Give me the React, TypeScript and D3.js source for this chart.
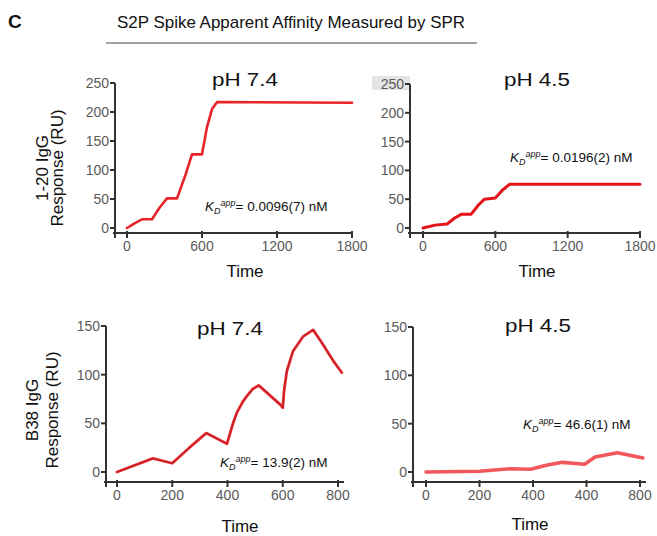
import React from 'react'
import * as d3 from 'd3'

// 1-20 IgG, pH 7.4
const timeA = [0, 60, 120, 200, 260, 320, 400, 467, 520, 600, 640, 680, 720, 1800]
const respA = [0, 8, 15, 15, 35, 51, 51, 91, 127, 127, 174, 205, 217, 216]
// 1-20 IgG, pH 4.5
const timeB = [0, 100, 200, 260, 320, 400, 460, 510, 600, 660, 720, 1800]
const respB = [0, 5, 7, 17, 24, 24, 40, 50, 52, 66, 76, 76]
// B38 IgG, pH 7.4
const timeC = [0, 130, 200, 262, 323, 398, 420, 434, 455, 470, 490, 513, 592, 600, 605, 615, 637, 673, 710, 741, 781, 814]
const respC = [0, 14, 9, 25, 40, 29, 50, 61, 72, 78, 85, 89, 69, 66, 84, 104, 124, 139, 146, 133, 115, 102]
// B38 IgG, pH 4.5
const timeD = [0, 200, 317, 391, 450, 509, 593, 632, 716, 811]
const respD = [0, 0.7, 3.4, 2.8, 7, 10, 8, 15.5, 20, 14.5]

const ticksLong = [0, 600, 1200, 1800]
const ticksShort = [0, 200, 400, 600, 800]
const labelsShortC = ['0', '200', '400', '600', '800']
const labelsShortD = ['0', '200', '400', '400', '800']
const yTicksTop = [0, 50, 100, 150, 200, 250]
const yTicksBottom = [0, 50, 100, 150]

const FONT = '"Liberation Sans", Arial, Helvetica, sans-serif'

type PanelProps = {
  times: number[]
  resp: number[]
  xDomain: [number, number]
  xRange: [number, number]
  yDomain: [number, number]
  yRange: [number, number]
  axisX: number
  axisY: number
  xEnd: number
  xTicks: number[]
  xLabels: string[]
  yTicks: number[]
  title: string
  titlePos: [number, number]
  kd: string
  kdPos: [number, number]
  color: string
  width: number
  dark?: boolean
}

const Panel = (p: PanelProps) => {
  const x = d3.scaleLinear().domain(p.xDomain).range(p.xRange)
  const y = d3.scaleLinear().domain(p.yDomain).range(p.yRange)
  const pts = p.times.map((t, i) => [t, p.resp[i]] as [number, number])
  const line = d3.line<[number, number]>().x(d => x(d[0])).y(d => y(d[1]))
  const top = y(p.yDomain[1])
  return (
    <g>
      <text x={p.titlePos[0]} y={p.titlePos[1]} textAnchor="middle" fontSize={19}
        textLength={66} lengthAdjust="spacingAndGlyphs" fill="#111">{p.title}</text>
      {/* axes */}
      <line x1={p.axisX} x2={p.axisX} y1={top} y2={p.axisY + 5} stroke="#333" strokeWidth={2} />
      <line x1={p.axisX - 2} x2={p.xEnd} y1={p.axisY} y2={p.axisY} stroke="#333" strokeWidth={2} />
      {p.yTicks.map(t => (
        <g key={'y' + t}>
          <line x1={p.axisX - 5} x2={p.axisX} y1={y(t)} y2={y(t)} stroke="#333" strokeWidth={2} />
          <text x={p.axisX - 6} y={y(t)} dy="0.36em" textAnchor="end" fontSize={14} fill="#5a5a5a">{t}</text>
        </g>
      ))}
      {p.xTicks.map((t, i) => (
        <g key={'x' + i}>
          <line x1={x(t)} x2={x(t)} y1={p.axisY - 2} y2={p.axisY + 5} stroke="#333" strokeWidth={2} />
          <text x={x(t)} y={p.axisY + 18} textAnchor="middle" fontSize={14} fill="#5a5a5a">{p.xLabels[i]}</text>
        </g>
      ))}
      <path d={line(pts) || ''} fill="none" stroke={p.color} strokeWidth={p.width} strokeLinejoin="round" strokeLinecap="round" />
      {p.dark && (
        <path d={line(pts) || ''} fill="none" stroke="#2a0505" strokeOpacity={0.35} strokeWidth={0.8} />
      )}
      <text x={p.kdPos[0]} y={p.kdPos[1]} fontSize={13.5} fill="#111">
        <tspan fontStyle="italic">K</tspan>
        <tspan fontStyle="italic" fontSize={9} dy={3}>D</tspan>
        <tspan fontStyle="italic" fontSize={9} dy={-8}>app</tspan>
        <tspan dy={5}>{'= ' + p.kd + ' nM'}</tspan>
      </text>
    </g>
  )
}

export default function App() {
  return (
    <svg width={657} height={536} style={{ display: 'block', position: 'absolute', left: 0, top: 0 }}
      fontFamily={FONT}>
      <rect width={657} height={536} fill="#fff" />
      <text x={8} y={28} fontSize={19} fontWeight="bold" fill="#111">C</text>
      <text x={291} y={28} textAnchor="middle" fontSize={17} textLength={348}
        lengthAdjust="spacingAndGlyphs" fill="#111">S2P Spike Apparent Affinity Measured by SPR</text>
      <line x1={106} x2={477} y1={43} y2={43} stroke="#444" strokeWidth={1} />

      {/* row labels */}
      <g transform="translate(0,168) rotate(-90)">
        <text x={0} y={48} textAnchor="middle" fontSize={17} fill="#111">1-20 IgG</text>
        <text x={0} y={63} textAnchor="middle" fontSize={17} fill="#111">Response (RU)</text>
      </g>
      <g transform="translate(0,410) rotate(-90)">
        <text x={0} y={38} textAnchor="middle" fontSize={17} fill="#111">B38 IgG</text>
        <text x={0} y={58} textAnchor="middle" fontSize={17} fill="#111">Response (RU)</text>
      </g>

      <rect x={372} y={76} width={38} height={14} fill="#e4e4e4" />

      <Panel times={timeA} resp={respA} xDomain={[0, 1800]} xRange={[127, 352]}
        yDomain={[0, 250]} yRange={[228, 83]} axisX={115} axisY={233} xEnd={353}
        xTicks={ticksLong} xLabels={ticksLong.map(String)} yTicks={yTicksTop}
        title="pH 7.4" titlePos={[245, 86]} kd="0.0096(7)" kdPos={[205, 211]}
        color="#e8232a" width={2.6} />
      <Panel times={timeB} resp={respB} xDomain={[0, 1800]} xRange={[423, 640]}
        yDomain={[0, 250]} yRange={[228, 84]} axisX={410} axisY={233} xEnd={641}
        xTicks={ticksLong} xLabels={ticksLong.map(String)} yTicks={yTicksTop}
        title="pH 4.5" titlePos={[537, 86]} kd="0.0196(2)" kdPos={[510, 162]}
        color="#e3151b" width={3} />
      <Panel times={timeC} resp={respC} xDomain={[0, 800]} xRange={[117, 338]}
        yDomain={[0, 150]} yRange={[472, 326]} axisX={106} axisY={482} xEnd={344}
        xTicks={ticksShort} xLabels={labelsShortC} yTicks={yTicksBottom}
        title="pH 7.4" titlePos={[230, 335]} kd="13.9(2)" kdPos={[220, 467]}
        color="#ea2a30" width={2.8} dark />
      <Panel times={timeD} resp={respD} xDomain={[0, 800]} xRange={[426, 640]}
        yDomain={[0, 150]} yRange={[472, 327]} axisX={413} axisY={482} xEnd={646}
        xTicks={ticksShort} xLabels={labelsShortD} yTicks={yTicksBottom}
        title="pH 4.5" titlePos={[538, 332]} kd="46.6(1)" kdPos={[523, 429]}
        color="#f2575a" width={3.6} />

      <text x={245} y={277} textAnchor="middle" fontSize={17} fill="#111">Time</text>
      <text x={537} y={277} textAnchor="middle" fontSize={17} fill="#111">Time</text>
      <text x={240} y={532} textAnchor="middle" fontSize={17} fill="#111">Time</text>
      <text x={530} y={530} textAnchor="middle" fontSize={17} fill="#111">Time</text>
    </svg>
  )
}
